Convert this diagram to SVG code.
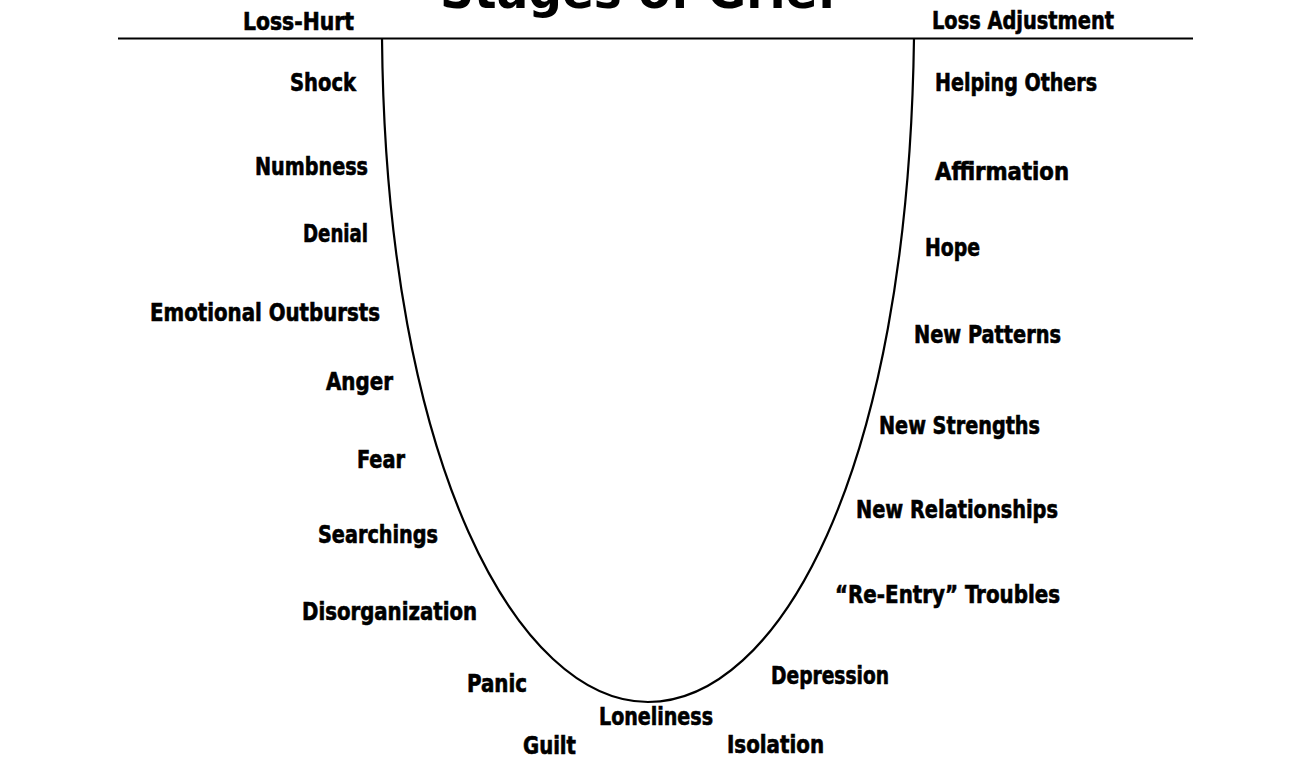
<svg xmlns="http://www.w3.org/2000/svg" width="1311" height="772" viewBox="0 0 1311 772">
<style>
.lbl{font-family:"DejaVu Sans","Liberation Sans",sans-serif;font-weight:bold;font-stretch:condensed;font-size:24px;fill:#000;stroke:#000;stroke-width:0.6}
.ttl{font-family:"DejaVu Sans","Liberation Sans",sans-serif;font-weight:bold;font-size:50px;fill:#000}
.ln{fill:none;stroke:#000;stroke-width:2.2}
</style>
<rect width="1311" height="772" fill="#fff"/>
<g id="title"><text class="ttl" x="440" y="8" textLength="398" lengthAdjust="spacingAndGlyphs">Stages of Grief</text></g>
<g id="connectors">
<line class="ln" x1="118" y1="38.5" x2="1193" y2="38.5" stroke-width="2.5"/>
<path class="ln" d="M382,38 C386,470 520,702 648,702 C776,702 908,480 914,38"/>
</g>
<g id="loss-hurt"><text class="lbl" x="243" y="30" textLength="111" lengthAdjust="spacingAndGlyphs">Loss-Hurt</text></g>
<g id="loss-adjustment"><text class="lbl" x="932" y="29" textLength="182" lengthAdjust="spacingAndGlyphs">Loss Adjustment</text></g>
<g id="shock"><text class="lbl" x="290" y="91" textLength="66" lengthAdjust="spacingAndGlyphs">Shock</text></g>
<g id="numbness"><text class="lbl" x="255" y="175" textLength="113" lengthAdjust="spacingAndGlyphs">Numbness</text></g>
<g id="denial"><text class="lbl" x="303" y="242" textLength="65" lengthAdjust="spacingAndGlyphs">Denial</text></g>
<g id="emotional-outbursts"><text class="lbl" x="150" y="321" textLength="230" lengthAdjust="spacingAndGlyphs">Emotional Outbursts</text></g>
<g id="anger"><text class="lbl" x="326" y="390" textLength="67" lengthAdjust="spacingAndGlyphs">Anger</text></g>
<g id="fear"><text class="lbl" x="357" y="468" textLength="48" lengthAdjust="spacingAndGlyphs">Fear</text></g>
<g id="searchings"><text class="lbl" x="318" y="543" textLength="120" lengthAdjust="spacingAndGlyphs">Searchings</text></g>
<g id="disorganization"><text class="lbl" x="302" y="620" textLength="175" lengthAdjust="spacingAndGlyphs">Disorganization</text></g>
<g id="panic"><text class="lbl" x="467" y="692" textLength="60" lengthAdjust="spacingAndGlyphs">Panic</text></g>
<g id="guilt"><text class="lbl" x="523" y="754" textLength="53" lengthAdjust="spacingAndGlyphs">Guilt</text></g>
<g id="loneliness"><text class="lbl" x="599" y="725" textLength="114" lengthAdjust="spacingAndGlyphs">Loneliness</text></g>
<g id="isolation"><text class="lbl" x="727" y="753" textLength="97" lengthAdjust="spacingAndGlyphs">Isolation</text></g>
<g id="depression"><text class="lbl" x="771" y="684" textLength="118" lengthAdjust="spacingAndGlyphs">Depression</text></g>
<g id="re-entry"><text class="lbl" x="835" y="603" textLength="225" lengthAdjust="spacingAndGlyphs">“Re-Entry” Troubles</text></g>
<g id="new-relationships"><text class="lbl" x="856" y="518" textLength="202" lengthAdjust="spacingAndGlyphs">New Relationships</text></g>
<g id="new-strengths"><text class="lbl" x="879" y="434" textLength="161" lengthAdjust="spacingAndGlyphs">New Strengths</text></g>
<g id="new-patterns"><text class="lbl" x="914" y="343" textLength="147" lengthAdjust="spacingAndGlyphs">New Patterns</text></g>
<g id="hope"><text class="lbl" x="925" y="256" textLength="55" lengthAdjust="spacingAndGlyphs">Hope</text></g>
<g id="affirmation"><text class="lbl" x="935" y="180" textLength="134" lengthAdjust="spacingAndGlyphs">Affirmation</text></g>
<g id="helping-others"><text class="lbl" x="935" y="91" textLength="162" lengthAdjust="spacingAndGlyphs">Helping Others</text></g>
</svg>
